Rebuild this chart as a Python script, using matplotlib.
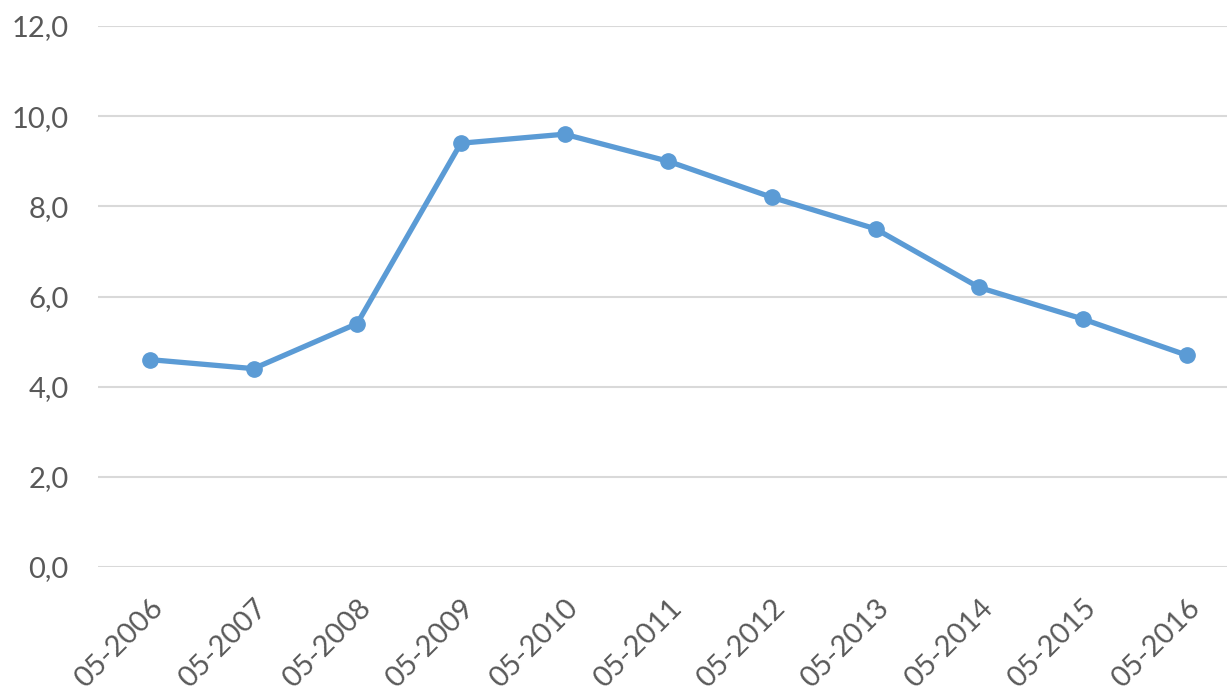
import matplotlib.pyplot as plt
import numpy as np

plt.rcParams['font.family'] = ['Lato', 'DejaVu Sans']

labels = ["05-2006", "05-2007", "05-2008", "05-2009", "05-2010", "05-2011",
          "05-2012", "05-2013", "05-2014", "05-2015", "05-2016"]
values = [4.6, 4.4, 5.4, 9.4, 9.6, 9.0, 8.2, 7.5, 6.2, 5.5, 4.7]
y_ticks = [0, 2, 4, 6, 8, 10, 12]

fig = plt.figure(figsize=(12.27, 7), dpi=100)
ax = fig.add_axes([98 / 1227, 1 - 567 / 700, 1 - 98 / 1227, (567 - 26) / 700])

x = np.arange(len(labels))
ax.plot(x, values, color="#5B9BD5", linewidth=3.8, marker="o", markersize=11,
        solid_capstyle="round", zorder=3)

ax.set_xlim(-0.5, 10.39)
ax.set_ylim(0, 12)
ax.set_yticks(y_ticks)
ax.set_yticklabels([f"{v:.1f}".replace(".", ",") for v in y_ticks])
ax.set_xticks(x)
ax.set_xticklabels(labels, rotation=45, ha="right", va="top", rotation_mode="anchor")

ax.grid(axis="y", color="#D9D9D9", linewidth=1.5)
ax.set_axisbelow(True)
for s in ax.spines.values():
    s.set_visible(False)
ax.tick_params(axis="both", length=0, labelsize=21, colors="#595959")
ax.tick_params(axis="y", pad=21)
ax.tick_params(axis="x", pad=20)

fig.savefig("out.png", dpi=100)
